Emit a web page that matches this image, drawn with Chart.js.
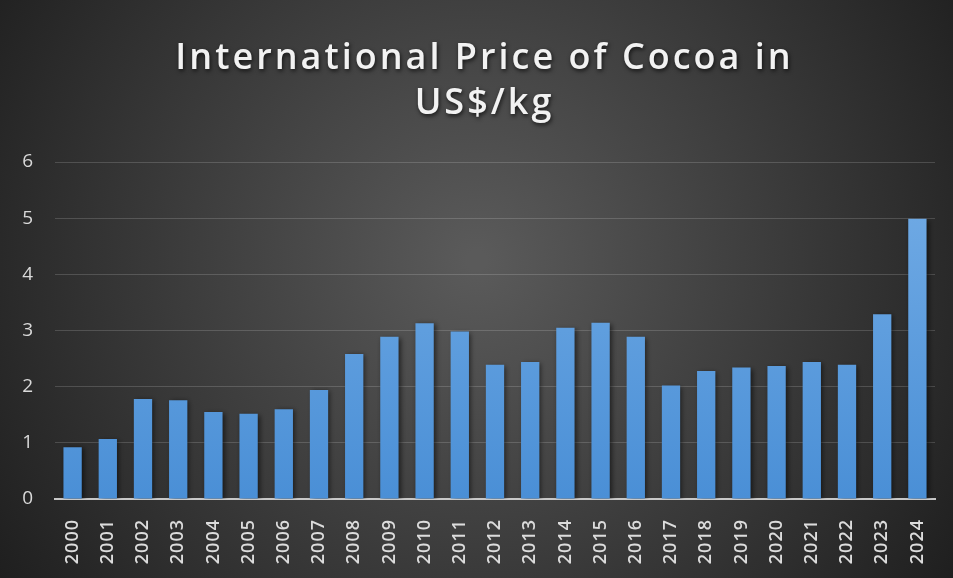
<!DOCTYPE html>
<html>
<head>
<meta charset="utf-8">
<script src="https://cdn.jsdelivr.net/npm/chart.js@4"></script>
<style>
  html, body { margin: 0; padding: 0; background: #2b2b2b; }
  #wrap { width: 953px; height: 578px; }
</style>
</head>
<body>
<div id="wrap"><canvas id="cocoa"></canvas></div>
<script>
const years = ["2000", "2001", "2002", "2003", "2004", "2005", "2006", "2007", "2008",
  "2009", "2010", "2011", "2012", "2013", "2014", "2015", "2016", "2017", "2018",
  "2019", "2020", "2021", "2022", "2023", "2024"];
const pricePerKg = [0.92, 1.07, 1.78, 1.76, 1.55, 1.52, 1.6, 1.94, 2.58,
  2.89, 3.13, 2.98, 2.39, 2.44, 3.05, 3.14, 2.89, 2.02, 2.28,
  2.34, 2.37, 2.44, 2.39, 3.29, 4.99];
const titleLines = ["International Price of Cocoa in", "US$/kg"];

// background, title shadow, spaced-out year labels, bar shadow
const backdrop = {
  id: "backdrop",
  afterLayout(chart) {
    const sx = chart.scales.x;
    if (sx && !sx._spaced) {
      const orig = sx.drawLabels.bind(sx);
      sx.drawLabels = (area) => {
        chart.ctx.letterSpacing = "1px";
        orig(area);
        chart.ctx.letterSpacing = "0px";
      };
      sx._spaced = true;
    }
    const tb = chart.titleBlock;
    if (tb && !tb._shadowed) {
      const origT = tb.draw.bind(tb);
      tb.draw = () => {
        const ctx = chart.ctx;
        ctx.save();
        ctx.translate(10, 0);
        ctx.letterSpacing = "3px";
        ctx.shadowColor = "rgba(0,0,0,0.7)";
        ctx.shadowBlur = 4;
        ctx.shadowOffsetX = 1;
        ctx.shadowOffsetY = 2;
        origT();
        ctx.restore();
      };
      tb._shadowed = true;
    }
  },
  beforeDraw(chart) {
    const { ctx, width, height } = chart;
    ctx.save();
    const g = ctx.createRadialGradient(width * 0.5, height * 0.45, 10, width * 0.5, height * 0.45, width * 0.6);
    g.addColorStop(0, "#5a5a5a");
    g.addColorStop(1, "#1f1f1f");
    ctx.fillStyle = g;
    ctx.fillRect(0, 0, width, height);
    ctx.restore();
  },
  beforeDatasetsDraw(chart) {
    const ctx = chart.ctx;
    ctx.save();
    ctx.shadowColor = "rgba(0,0,0,0.55)";
    ctx.shadowBlur = 5;
    ctx.shadowOffsetX = 2;
    ctx.shadowOffsetY = 1;
  },
  afterDatasetsDraw(chart) {
    chart.ctx.restore();
  }
};

function barFill(context) {
  const area = context.chart.chartArea;
  if (!area) return "#5b9bd5";
  const g = context.chart.ctx.createLinearGradient(0, area.top, 0, area.bottom);
  g.addColorStop(0, "#74ade6");
  g.addColorStop(1, "#4a8fd6");
  return g;
}

new Chart(document.getElementById("cocoa"), {
  type: "bar",
  data: {
    labels: years,
    datasets: [{
      label: "US$/kg",
      data: pricePerKg,
      backgroundColor: barFill,
      borderWidth: 0,
      categoryPercentage: 1,
      barPercentage: 0.52
    }]
  },
  options: {
    responsive: true,
    maintainAspectRatio: false,
    animation: false,
    layout: { padding: { left: 14, right: 18, top: 0, bottom: 0 } },
    plugins: {
      legend: { display: false },
      tooltip: { enabled: false },
      title: {
        display: true,
        text: titleLines,
        color: "#f2f2f2",
        font: { family: "'Open Sans'", size: 36, weight: "600", lineHeight: 1.25 },
        padding: { top: 36, bottom: 36 }
      }
    },
    scales: {
      x: {
        afterFit(scale) { scale.height = 79; },
        grid: { display: false },
        border: { color: "#c8c8c8", width: 2 },
        ticks: {
          color: "#dcdcdc",
          font: { family: "'Open Sans'", size: 18, weight: "600" },
          minRotation: 90,
          maxRotation: 90,
          autoSkip: false,
          padding: 12
        }
      },
      y: {
        min: 0,
        max: 6,
        afterFit(scale) { scale.width = 41; },
        grid: { color: "rgba(255,255,255,0.16)", lineWidth: 1, drawTicks: false },
        border: { display: false },
        ticks: {
          stepSize: 1,
          color: "#d9d9d9",
          font: { family: "'Open Sans'", size: 19 },
          padding: 22
        }
      }
    }
  },
  plugins: [backdrop]
});
</script>
</body>
</html>
